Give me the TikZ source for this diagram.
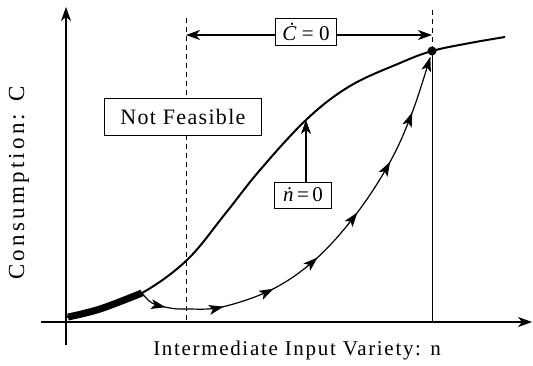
\documentclass[tikz,border=0pt]{standalone}
\usepackage{fontspec}
\setmainfont{Liberation Serif}
\newfontfamily\spacedA[LetterSpace=8]{Liberation Serif}
\newfontfamily\spacedB[LetterSpace=14]{Liberation Serif}
\newfontfamily\spacedC[LetterSpace=6]{Liberation Serif}
\usetikzlibrary{arrows.meta,decorations.markings}
\newcommand{\trajhead}{\fill (1.5pt,0pt) -- (-13pt,5pt) -- (-9.5pt,0pt) -- (-13pt,-5pt) -- cycle;}
\begin{document}
\begin{tikzpicture}[x=1pt,y=-1pt,
  axisline/.style={line width=1.3pt},
  tip/.style={-{Stealth[length=14pt,width=10pt,inset=4pt]}},
  labelbox/.style={draw,fill=white,line width=0.9pt,inner sep=3pt},
  dashline/.style={dashed,dash pattern=on 5pt off 4pt,line width=0.9pt},
  traj/.style={line width=1.2pt,postaction={decorate},decoration={markings,
    mark=at position 0.063 with {\trajhead},
    mark=at position 0.20 with {\trajhead},
    mark=at position 0.325 with {\trajhead},
    mark=at position 0.452 with {\trajhead},
    mark=at position 0.593 with {\trajhead},
    mark=at position 0.735 with {\trajhead},
    mark=at position 0.862 with {\trajhead},
    mark=at position 0.999 with {\trajhead}}}]
\useasboundingbox (0,0) rectangle (533,365);
% axes
\coordinate (yb) at (66,345);
\coordinate (yt) at (66,7);
\coordinate (xl) at (41,322);
\coordinate (xr) at (532,322);
\draw[axisline,tip] (yb) -- (yt);
\draw[axisline,tip] (xl) -- (xr);
\node[rotate=90,font=\spacedB\fontsize{23}{25}\selectfont] (ylab) at (19,183) {Consumption: C};
\node[font=\spacedA\fontsize{21}{23}\selectfont] (xlab) at (297,350) {Intermediate Input Variety: n};
% dashed lines
\coordinate (d1t) at (186,18);
\coordinate (d1b) at (186,322);
\draw[dashline] (d1t) -- (d1b);
\coordinate (d2t) at (432,10);
\coordinate (ss) at (432,51);
\coordinate (d2b) at (432,322);
\draw[dashline] (d2t) -- (ss);
\draw[line width=1pt] (ss) -- (d2b);
% main curve
\draw[line width=2pt] plot[smooth,tension=0.6] coordinates {(66,317) (100,309) (142,293) (187,260) (225,214) (260,170) (307,119) (350,86) (400,63) (432,51) (470,43) (505,37)};
\draw[line width=7pt] plot[smooth,tension=0.6] coordinates {(68,317) (100,309) (142,293)};
% trajectory
\draw[traj] plot[smooth,tension=0.6] coordinates {(142,293) (152,303) (170,308) (187,309) (222,307) (273,289) (317,258) (357,213) (390,162) (412,113) (430,58)};
\fill (ss) circle (4.5pt);
% boxes
\node[labelbox,font=\spacedC\fontsize{22}{24}\selectfont,minimum width=157pt,minimum height=37pt] (nf) at (183,117) {Not Feasible};
\node[labelbox,minimum width=61pt,minimum height=27pt,font=\fontsize{21}{23}\selectfont] (cdot) at (306,32) {\textit{\.C} = 0};
\node[labelbox,minimum width=57pt,minimum height=26pt,font=\fontsize{21}{23}\selectfont] (ndot) at (303,195) {\textit{\.n}\,=\,0};
\coordinate (cl) at (186,35);
\coordinate (cr) at (432,35);
\draw[line width=1.2pt,tip] (cdot.west |- cl) -- (cl);
\draw[line width=1.2pt,tip] (cdot.east |- cr) -- (cr);
\coordinate (ncurve) at (306,120);
\draw[line width=1.2pt,tip] (ndot.north -| ncurve) -- (ncurve);
\end{tikzpicture}
\end{document}
